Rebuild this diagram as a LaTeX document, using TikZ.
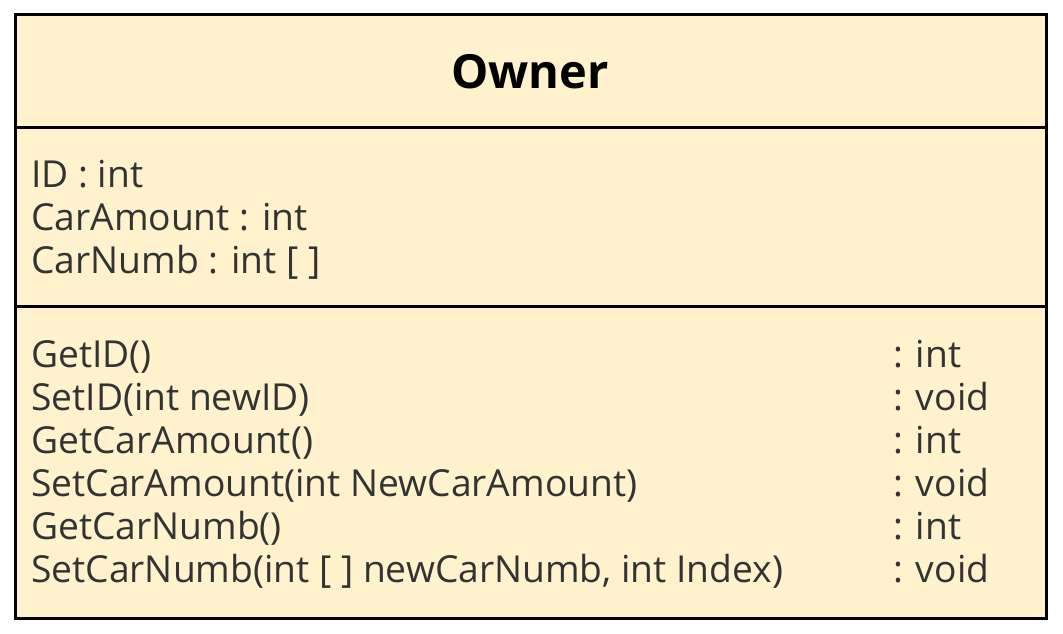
\documentclass[tikz,border=0pt]{standalone}
\usepackage{fontspec}
\setmainfont{Open Sans}
\definecolor{classfill}{HTML}{FFF2CC}
\definecolor{membertext}{HTML}{333333}
\begin{document}
\begin{tikzpicture}[x=1pt,y=-1pt,
  member/.style={anchor=base west,inner sep=0pt,text=membertext,font=\fontsize{37.2}{44}\selectfont},
  rettype/.style={member},
  classname/.style={anchor=base,inner sep=0pt,font=\fontsize{47}{56}\selectfont\bfseries},
  border/.style={line width=3pt,draw=black}]
\useasboundingbox (0,0) rectangle (1063,633);
% class box with its three compartments
\draw[border,fill=classfill] (15.5,14.5) rectangle (1046.5,618.5);
\draw[border] (15.5,127.5) -- (1046.5,127.5);
\draw[border] (15.5,306.5) -- (1046.5,306.5);
% class name
\node[classname] (name) at (530,88) {Owner};
% attributes
\node[member] (a1) at (31,187) {ID : int};
\node[member] (a2) at (31,230) {CarAmount : int};
\node[member] (a3) at (31,273) {CarNumb : int [ ]};
% operations
\node[member] (m1) at (31,367) {GetID()};
\node[member] (m2) at (31,410) {SetID(int newID)};
\node[member] (m3) at (31,453) {GetCarAmount()};
\node[member] (m4) at (31,496) {SetCarAmount(int NewCarAmount)};
\node[member] (m5) at (31,539) {GetCarNumb()};
\node[member] (m6) at (31,582) {SetCarNumb(int [ ] newCarNumb, int Index)};
\node[rettype] (r1) at (893,367) {: int};
\node[rettype] (r2) at (893,410) {: void};
\node[rettype] (r3) at (893,453) {: int};
\node[rettype] (r4) at (893,496) {: void};
\node[rettype] (r5) at (893,539) {: int};
\node[rettype] (r6) at (893,582) {: void};
\end{tikzpicture}
\end{document}
